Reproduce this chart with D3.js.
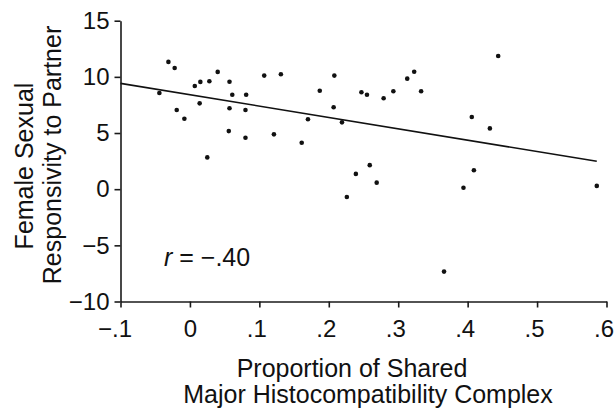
<!DOCTYPE html>
<html>
<head>
<meta charset="utf-8">
<script src="https://cdn.jsdelivr.net/npm/d3@7"></script>
<style>
  html, body { margin: 0; padding: 0; background: #fff; }
  svg { display: block; }
  text { font-family: "Liberation Sans", Arial, Helvetica, sans-serif; fill: #111; }
</style>
</head>
<body>
<svg id="chart" width="615" height="414"></svg>
<script>
// ---- data ----
const mhcShared = [-0.044, -0.031, -0.022, -0.019, -0.008, 0.007, 0.015, 0.028, 0.040, 0.014,
  0.025, 0.057, 0.061, 0.081, 0.057, 0.080, 0.056, 0.080, 0.107, 0.131,
  0.121, 0.161, 0.170, 0.187, 0.208, 0.207, 0.219, 0.226, 0.239, 0.247,
  0.255, 0.259, 0.269, 0.279, 0.293, 0.313, 0.323, 0.333, 0.366, 0.394,
  0.406, 0.409, 0.432, 0.444, 0.586];
const responsivity = [8.56, 11.33, 10.79, 7.05, 6.27, 9.19, 9.55, 9.61, 10.44, 7.64,
  2.83, 9.57, 8.41, 8.41, 7.20, 7.05, 5.17, 4.58, 10.11, 10.23,
  4.88, 4.13, 6.22, 8.77, 10.11, 7.29, 5.95, -0.69, 1.36, 8.63,
  8.41, 2.14, 0.58, 8.09, 8.72, 9.84, 10.46, 8.72, -7.34, 0.13,
  6.42, 1.69, 5.41, 11.86, 0.29];
const fitX = [-0.1, 0.586];
const fitY = [9.42, 2.48];
const xTicks = [-0.1, 0, 0.1, 0.2, 0.3, 0.4, 0.5, 0.6];
const xTickLabels = ["\u2212.1", "0", ".1", ".2", ".3", ".4", ".5", ".6"];
const yTicks = [-10, -5, 0, 5, 10, 15];
const yTickLabels = ["\u221210", "\u22125", "0", "5", "10", "15"];
const xLabelLines = ["Proportion of Shared", "Major Histocompatibility Complex"];
const yLabelLines = ["Female Sexual", "Responsivity to Partner"];
const rLabel = "\u2212.40";

// ---- layout ----
const svg = d3.select("#chart");
svg.append("rect").attr("width", 615).attr("height", 414).attr("fill", "#fff");

const x = d3.scaleLinear().domain([-0.1, 0.6]).range([120.5, 606.5]);
const y = d3.scaleLinear().domain([-10, 15]).range([301.5, 20.7]);

const tickFont = 24;
const axisColor = "#1a1a1a";

// x axis
const gx = svg.append("g").attr("transform", `translate(0,${y(-10)})`)
  .call(d3.axisBottom(x).tickValues(xTicks).tickFormat((d, i) => xTickLabels[i])
    .tickSize(6).tickSizeOuter(0).tickPadding(12));
gx.select(".domain").attr("stroke", axisColor).attr("stroke-width", 1.6);
gx.selectAll(".tick line").attr("stroke", axisColor).attr("stroke-width", 1.6);
gx.selectAll(".tick text").attr("font-size", tickFont)
  .attr("font-family", "Liberation Sans, Arial, sans-serif").attr("fill", "#111")
  .attr("dx", (d, i) => xTickLabels[i].startsWith("\u2212") ? -6 : (xTickLabels[i].startsWith(".") ? -3 : 0));

// y axis
const gy = svg.append("g").attr("transform", `translate(${x(-0.1)},0)`)
  .call(d3.axisLeft(y).tickValues(yTicks).tickFormat((d, i) => yTickLabels[i])
    .tickSize(6).tickSizeOuter(0).tickPadding(5));
gy.select(".domain").attr("stroke", axisColor).attr("stroke-width", 1.6);
gy.selectAll(".tick line").attr("stroke", axisColor).attr("stroke-width", 1.6);
gy.selectAll(".tick text").attr("font-size", tickFont)
  .attr("font-family", "Liberation Sans, Arial, sans-serif").attr("fill", "#111");

// regression line
const fit = fitX.map((d, i) => [d, fitY[i]]);
svg.append("path")
  .datum(fit)
  .attr("d", d3.line().x(d => x(d[0])).y(d => y(d[1])))
  .attr("fill", "none").attr("stroke", "#111").attr("stroke-width", 1.6);

// points
svg.append("g").selectAll("circle")
  .data(mhcShared.map((d, i) => [d, responsivity[i]]))
  .join("circle")
  .attr("cx", d => x(d[0])).attr("cy", d => y(d[1]))
  .attr("r", 2.3).attr("fill", "#111");

// r annotation
const rt = svg.append("text").attr("x", 164).attr("y", 266).attr("font-size", 25);
rt.append("tspan").attr("font-style", "italic").text("r");
rt.append("tspan").text(" = " + rLabel);

// x label
svg.append("text").attr("x", 352).attr("y", 377).attr("text-anchor", "middle")
  .attr("font-size", 25).text(xLabelLines[0]);
svg.append("text").attr("x", 368).attr("y", 403).attr("text-anchor", "middle")
  .attr("font-size", 25).text(xLabelLines[1]);

// y label
svg.append("text").attr("transform", "translate(33,166) rotate(-90)").attr("text-anchor", "middle")
  .attr("font-size", 25).text(yLabelLines[0]);
svg.append("text").attr("transform", "translate(61,155) rotate(-90)").attr("text-anchor", "middle")
  .attr("font-size", 25).text(yLabelLines[1]);
</script>
</body>
</html>
